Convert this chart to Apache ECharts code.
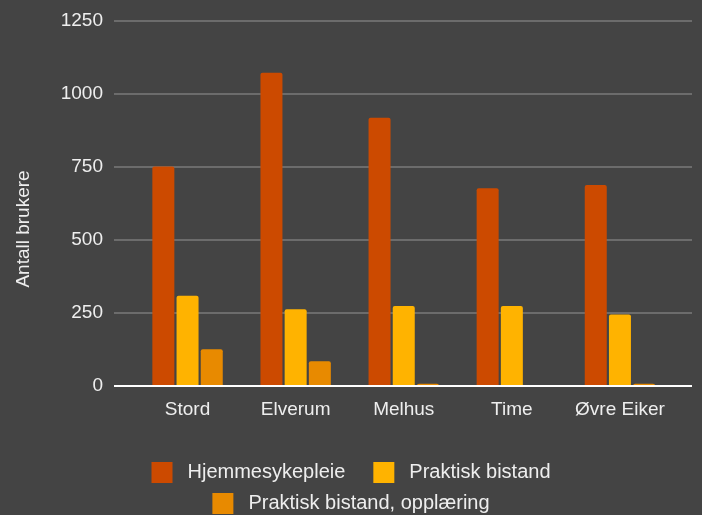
<!DOCTYPE html>
<html>
<head>
<meta charset="utf-8">
<script src="https://cdn.jsdelivr.net/npm/echarts@6/dist/echarts.min.js"></script>
<style>
  html, body { margin: 0; padding: 0; background: #444444; }
  #chart { width: 702px; height: 515px; }
</style>
</head>
<body>
<div id="chart"></div>
<script>
const kommuner = ['Stord', 'Elverum', 'Melhus', 'Time', 'Øvre Eiker']
const hjemmesykepleie = [752, 1073, 919, 677, 688]
const praktiskBistand = [309, 263, 274, 274, 245]
const opplaering = [126, 85, 8, 0, 8]
const yTicks = [0, 250, 500, 750, 1000, 1250]

const font = 'Liberation Sans, Arial, sans-serif'
const txt = '#eeeeee'

const myChart = echarts.init(document.getElementById('chart'))

// to grid: det ytre for rutenett og akser, det indre for stolpene
const option = {
  backgroundColor: '#444444',
  textStyle: { fontFamily: font },
  grid: [
    { left: 114, right: 10, top: 21, bottom: 129 },
    { left: 133.5, right: 28, top: 21, bottom: 129 }
  ],
  xAxis: [
    {
      gridIndex: 0, type: 'value', min: 0, max: 1, show: true,
      axisLine: { show: false }, axisTick: { show: false },
      axisLabel: { show: false }, splitLine: { show: false }
    },
    {
      gridIndex: 1, type: 'category', data: kommuner,
      axisLine: { show: false }, axisTick: { show: false },
      axisLabel: { color: txt, fontSize: 19, fontFamily: font, margin: 14, interval: 0 }
    }
  ],
  yAxis: [
    {
      gridIndex: 0, type: 'value', min: yTicks[0], max: yTicks[yTicks.length - 1], interval: 250,
      axisLine: { show: false }, axisTick: { show: false },
      axisLabel: { color: txt, fontSize: 19, fontFamily: font, margin: 11, formatter: v => String(v) },
      splitLine: { lineStyle: { color: '#7a7a7a', width: 1.5 } }
    },
    {
      gridIndex: 1, type: 'value', min: yTicks[0], max: yTicks[yTicks.length - 1], interval: 250,
      show: false, splitLine: { show: false }
    }
  ],
  legend: [
    {
      data: ['Hjemmesykepleie', 'Praktisk bistand'],
      top: 457, left: 'center', itemWidth: 21, itemHeight: 21, itemGap: 28,
      icon: 'rect',
      textStyle: { color: txt, fontSize: 20, fontFamily: font, padding: [0, 0, 0, 10] }
    },
    {
      data: ['Praktisk bistand, opplæring'],
      top: 488, left: 'center', itemWidth: 21, itemHeight: 21,
      icon: 'rect',
      textStyle: { color: txt, fontSize: 20, fontFamily: font, padding: [0, 0, 0, 10] }
    }
  ],
  graphic: [
    {
      type: 'text', x: 24, y: 229, rotation: Math.PI / 2,
      style: {
        text: 'Antall brukere', fill: txt, font: '19px ' + font,
        textAlign: 'center', textVerticalAlign: 'middle'
      }
    },
    {
      type: 'line', z: 10,
      shape: { x1: 114, y1: 386, x2: 692, y2: 386 },
      style: { stroke: '#ffffff', lineWidth: 2 }
    }
  ],
  series: [
    {
      name: 'Hjemmesykepleie', type: 'bar', xAxisIndex: 1, yAxisIndex: 1,
      data: hjemmesykepleie, barWidth: 22, barGap: '10%',
      itemStyle: { color: '#cc4a00', borderRadius: [2, 2, 0, 0] }
    },
    {
      name: 'Praktisk bistand', type: 'bar', xAxisIndex: 1, yAxisIndex: 1,
      data: praktiskBistand, barWidth: 22, barGap: '10%',
      itemStyle: { color: '#ffb300', borderRadius: [2, 2, 0, 0] }
    },
    {
      name: 'Praktisk bistand, opplæring', type: 'bar', xAxisIndex: 1, yAxisIndex: 1,
      data: opplaering, barWidth: 22, barGap: '10%',
      itemStyle: { color: '#e88a00', borderRadius: [2, 2, 0, 0] }
    }
  ]
}
myChart.setOption(option)
</script>
</body>
</html>
